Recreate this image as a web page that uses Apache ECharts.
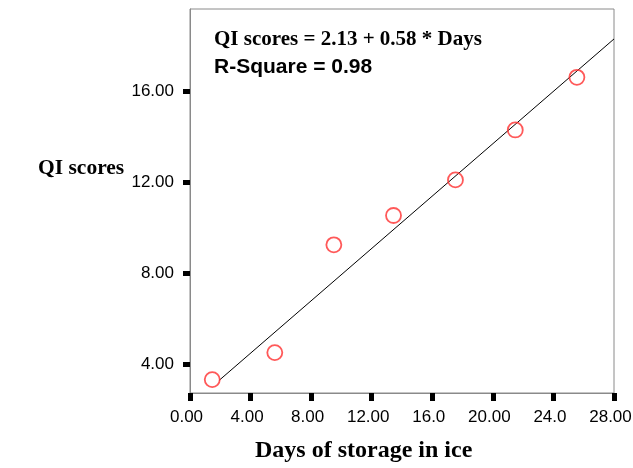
<!DOCTYPE html>
<html>
<head>
<meta charset="utf-8">
<script src="https://cdn.jsdelivr.net/npm/echarts@6/dist/echarts.min.js"></script>
<style>html,body{margin:0;padding:0;background:#fff}#c{width:633px;height:468px}</style>
</head>
<body>
<div id="c"></div>
<script>
const days = [1.47, 5.6, 9.5, 13.44, 17.53, 21.48, 25.55];
const qiScores = [3.31, 4.50, 9.25, 10.54, 12.11, 14.31, 16.63];
// Fitted line endpoints
const fitDays = [1.93, 28.0];
const fitScores = [3.28, 18.32];
// Tick labels
const xTickValues = [0, 4, 8, 12, 16, 20, 24, 28];
const xTickLabels = ['0.00', '4.00', '8.00', '12.00', '16.0', '20.00', '24.0', '28.00'];
const yTickValues = [4, 8, 12, 16];
const yTickLabels = ['4.00', '8.00', '12.00', '16.00'];
const equationText = 'QI scores = 2.13 + 0.58 * Days';
const rsqText = 'R-Square = 0.98';
const xName = 'Days of storage in ice';
const yName = 'QI scores';

const chart = echarts.init(document.getElementById('c'), null, {renderer: 'canvas'});
const frameColor = '#8a8a8a';
chart.setOption({
  animation: false,
  backgroundColor: '#fff',
  grid: {left: 190, right: 19, top: 9, bottom: 75, show: true, borderColor: frameColor, borderWidth: 1,
         containLabel: false, outerBoundsMode: 'none'},
  xAxis: {
    type: 'value', min: 0, max: 28, interval: 4,
    axisLine: {show: true, lineStyle: {color: frameColor, width: 1}},
    axisTick: {show: true, length: 8, lineStyle: {color: '#000', width: 5}},
    splitLine: {show: false},
    axisLabel: {
      margin: 16, fontFamily: 'Liberation Sans, Arial', fontSize: 17, color: '#000',
      padding: [0, 7, 0, 0],
      showMinLabel: true, showMaxLabel: true, hideOverlap: false,
      formatter: v => { const i = xTickValues.indexOf(v); return i >= 0 ? xTickLabels[i] : ''; }
    }
  },
  yAxis: {
    type: 'value', min: 2.72, max: 19.64,
    axisLine: {show: true, lineStyle: {color: frameColor, width: 1}},
    axisTick: {show: true, length: 7, lineStyle: {color: '#000', width: 5}, customValues: yTickValues},
    splitLine: {show: false},
    axisLabel: {
      margin: 16, fontFamily: 'Liberation Sans, Arial', fontSize: 17, color: '#000',
      customValues: yTickValues,
      formatter: v => { const i = yTickValues.indexOf(v); return i >= 0 ? yTickLabels[i] : ''; }
    }
  },
  series: [
    {
      type: 'line', data: fitDays.map((d, i) => [d, fitScores[i]]),
      showSymbol: false, lineStyle: {color: '#000', width: 1}, z: 2
    },
    {
      type: 'scatter', data: days.map((d, i) => [d, qiScores[i]]),
      symbol: 'circle', symbolSize: 15,
      itemStyle: {color: 'transparent', borderColor: '#ff3030', borderWidth: 1.8}, z: 3
    }
  ],
  graphic: [
    {type: 'text', left: 214, top: 29, style: {text: equationText, font: 'bold 21px "Liberation Serif", "Times New Roman", serif', fill: '#000'}},
    {type: 'text', left: 214, top: 57, style: {text: rsqText, font: 'bold 21px "Liberation Sans", Arial, sans-serif', fill: '#000'}},
    {type: 'text', left: 38, top: 157, style: {text: yName, font: 'bold 21.5px "Liberation Serif", "Times New Roman", serif', fill: '#000'}},
    {type: 'text', left: 255, top: 439, style: {text: xName, font: 'bold 24px "Liberation Serif", "Times New Roman", serif', fill: '#000'}}
  ]
});
</script>
</body>
</html>
